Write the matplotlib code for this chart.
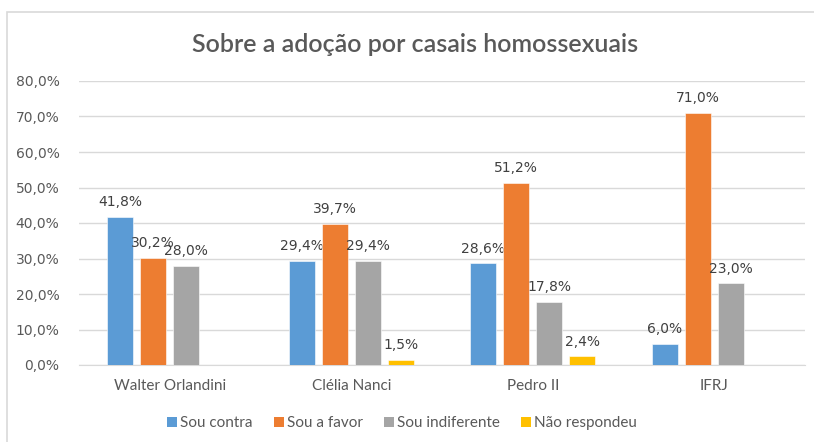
import numpy as np
import matplotlib.pyplot as plt
from matplotlib.patches import Rectangle

escolas = ["Walter Orlandini", "Clélia Nanci", "Pedro II", "IFRJ"]
series = ["Sou contra", "Sou a favor", "Sou indiferente", "Não respondeu"]
sou_contra = [41.8, 29.4, 28.6, 6.0]
sou_a_favor = [30.2, 39.7, 51.2, 71.0]
sou_indiferente = [28.0, 29.4, 17.8, 23.0]
nao_respondeu = [None, 1.5, 2.4, None]
cores = ["#5B9BD5", "#ED7D31", "#A5A5A5", "#FFC000"]
yticks = [0, 10, 20, 30, 40, 50, 60, 70, 80]

texto = ["Lato", "DejaVu Sans"]
numeros = "DejaVu Sans"

fig = plt.figure(figsize=(8.14, 4.42), dpi=100)
ax = fig.add_axes([79 / 814, 77 / 442, 726 / 814, 284 / 442])

# moldura do grafico (cortada na direita/embaixo como no original)
fig.patches.append(Rectangle((7 / 814, -0.1), 1.2, (442 - 12) / 442 + 0.1,
                             transform=fig.transFigure, fill=False,
                             edgecolor="#D9D9D9", linewidth=1.2))

x = np.arange(len(escolas))
passo = 0.182
larg = 0.143
dados = [sou_contra, sou_a_favor, sou_indiferente, nao_respondeu]
for i, (nome, vals, cor) in enumerate(zip(series, dados, cores)):
    pos = x + (i - 1.5) * passo
    for p, v in zip(pos, vals):
        if v is None:
            continue
        ax.bar(p, v, width=larg, color=cor, edgecolor="white", linewidth=0.4, zorder=3)
        ax.text(p, v + 2.2, f"{v:.1f}%".replace(".", ","), ha="center", va="bottom",
                fontsize=10, color="#404040", family=numeros)
    ax.bar([0], [0], width=0, color=cor, label=nome)

ax.set_xlim(-0.5, 3.5)
ax.set_ylim(0, 80)
ax.set_yticks(yticks)
ax.set_yticklabels([f"{t:.1f}%".replace(".", ",") for t in yticks], family=numeros,
                   fontsize=10, color="#595959")
ax.set_xticks(x)
ax.set_xticklabels(escolas, family=texto, fontsize=11, color="#595959")
ax.tick_params(length=0, pad=10)
ax.tick_params(axis="y", pad=14)
ax.yaxis.grid(True, color="#D9D9D9", linewidth=1)
ax.set_axisbelow(True)
for s in ["top", "right", "left"]:
    ax.spines[s].set_visible(False)
ax.spines["bottom"].set_color("#D9D9D9")

fig.text(415 / 814, 1 - 45 / 442, "Sobre a adoção por casais homossexuais", ha="center",
         va="center", fontsize=18, color="#595959", family=texto, weight="semibold")

fig.legend(loc="center", bbox_to_anchor=(402 / 814, 1 - 423 / 442), ncol=4, frameon=False,
           prop={"family": texto, "size": 11}, labelcolor="#595959",
           handlelength=0.65, handleheight=0.65, handletextpad=0.2, columnspacing=1.4)

fig.savefig("out.png", dpi=100)
